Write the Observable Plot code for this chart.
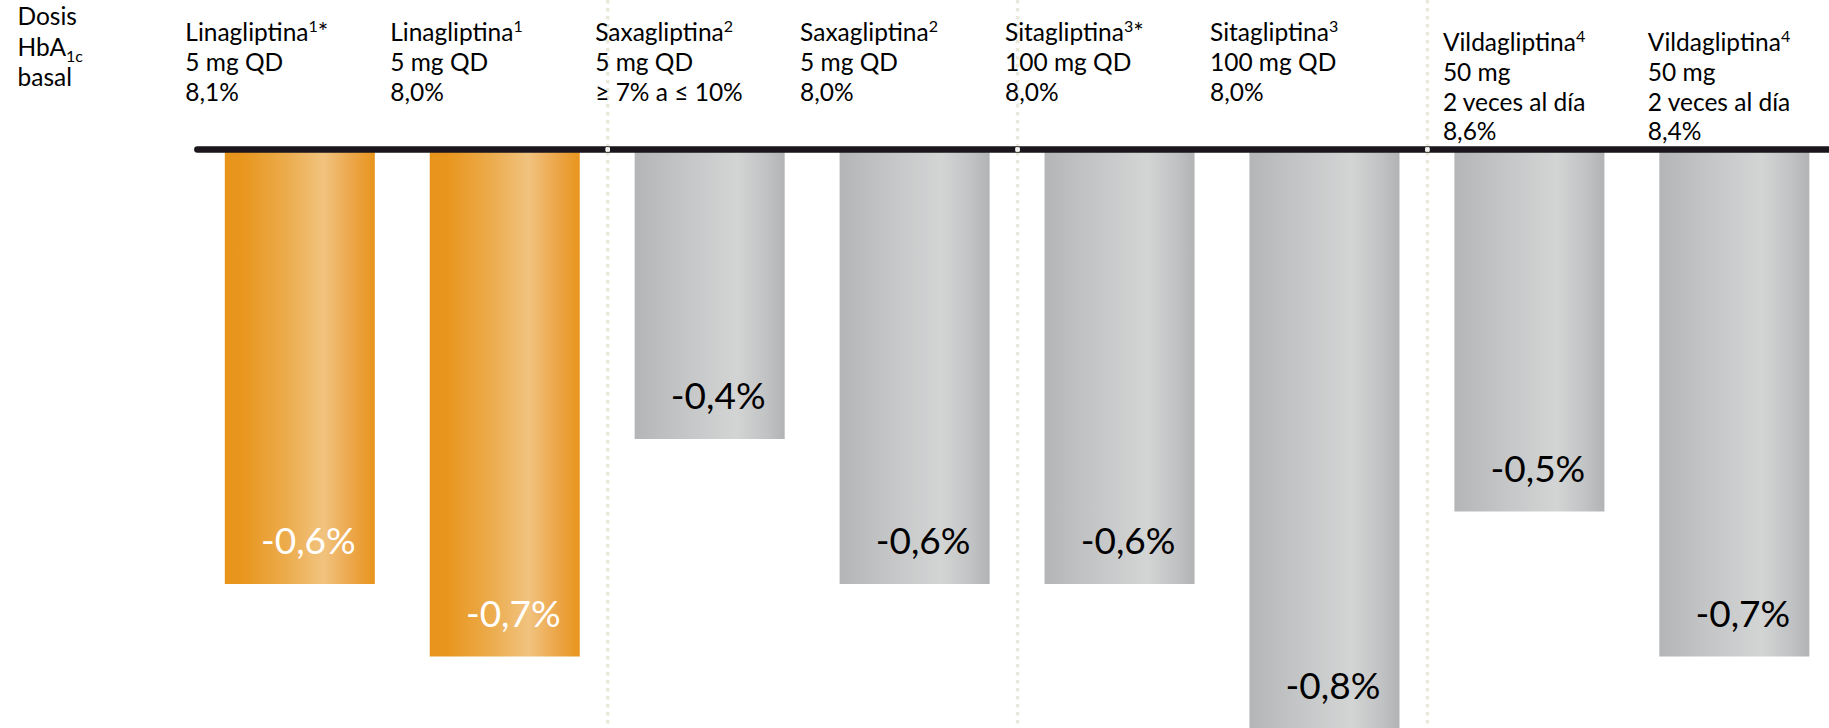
<!DOCTYPE html>
<html><head><meta charset="utf-8">
<script src="https://cdn.jsdelivr.net/npm/d3@7"></script>
<script src="https://cdn.jsdelivr.net/npm/@observablehq/plot@0.6"></script>
<style>
html,body{margin:0;padding:0;background:#fff;overflow:hidden;}
#chart svg{display:block;}
</style></head><body><div id="chart"></div>
<script>
// ---- data ----
const drugs = ["Linagliptina","Linagliptina","Saxagliptina","Saxagliptina","Sitagliptina","Sitagliptina","Vildagliptina","Vildagliptina"];
const headers = [
  "Linagliptina¹*\n5 mg QD\n8,1%",
  "Linagliptina¹\n5 mg QD\n8,0%",
  "Saxagliptina²\n5 mg QD\n≥ 7% a ≤ 10%",
  "Saxagliptina²\n5 mg QD\n8,0%",
  "Sitagliptina³*\n100 mg QD\n8,0%",
  "Sitagliptina³\n100 mg QD\n8,0%",
  "Vildagliptina⁴\n50 mg\n2 veces al día\n8,6%",
  "Vildagliptina⁴\n50 mg\n2 veces al día\n8,4%"
];
const changes = [-0.6, -0.7, -0.4, -0.6, -0.6, -0.8, -0.5, -0.7];
const rowLabel = "Dosis\nHbA1c\nbasal";
const highlightDrug = "Linagliptina";

// ---- derived table ----
const rows = drugs.map((d, i) => ({i, drug: d, header: headers[i], change: changes[i], lines: headers[i].split("\n").length}));
const seps = rows.filter((r, i) => i > 0 && r.drug !== drugs[i - 1]).map(r => r.i - 0.5);
const hw = 0.366;
const fmt = v => v.toFixed(1).replace(".", ",") + "%";
const xDomain = [-1.463, 7.462];
const hi = rows.filter(r => r.drug === highlightDrug);
const lo = rows.filter(r => r.drug !== highlightDrug);
const headFont = 24.5, headLH = 1.22;

const svg = Plot.plot({
  width: 1829, height: 728, margin: 0,
  x: {domain: xDomain, axis: null},
  y: {domain: [-0.79862, 0.20552], axis: null},
  style: {fontFamily: "Lato, sans-serif", background: "white", overflow: "hidden"},
  marks: [
    Plot.ruleX(seps, {x: d => d, stroke: "#ebe9dc", strokeWidth: 3.5, strokeDasharray: "3.5,4.5"}),
    Plot.rectY(hi, {x1: d => d.i - hw, x2: d => d.i + hw, y1: () => 0, y2: "change", fill: "url(#gradOrange)"}),
    Plot.rectY(lo, {x1: d => d.i - hw, x2: d => d.i + hw, y1: () => 0, y2: "change", fill: "url(#gradGray)"}),
    Plot.ruleY([0], {x1: () => -0.5, x2: () => xDomain[1], stroke: "#1a161c", strokeWidth: 6.5, strokeLinecap: "round"}),
    Plot.dot(seps, {x: d => d, y: () => 0, symbol: "square", r: 2, fill: "#efeee6", stroke: "#fff", strokeWidth: 1}),
    Plot.text(hi, {x: "i", y: "change", text: d => fmt(d.change), dy: -42, dx: 8, fill: "white", fontSize: 37, textAnchor: "middle"}),
    Plot.text(lo, {x: "i", y: "change", text: d => fmt(d.change), dy: -42, dx: 8, fill: "black", fontSize: 37, textAnchor: "middle"}),
    Plot.text(rows.filter(r => r.lines === 3), {x: d => d.i - hw, text: "header", frameAnchor: "top", textAnchor: "start", lineAnchor: "top", dx: -40, dy: 19.5, fontSize: headFont, lineHeight: headLH, fill: "black"}),
    Plot.text(rows.filter(r => r.lines === 4), {x: d => d.i - hw, text: "header", frameAnchor: "top", textAnchor: "start", lineAnchor: "top", dx: -12, dy: 29, fontSize: headFont, lineHeight: headLH, fill: "black"}),
    Plot.text([rowLabel], {text: d => d, frameAnchor: "top-left", textAnchor: "start", lineAnchor: "top", dx: 17, dy: 3, fontSize: headFont, lineHeight: 1.245, fill: "black"})
  ]
});

// gradients
const defs = d3.select(svg).insert("defs", ":first-child");
function grad(id, stops) {
  const g = defs.append("linearGradient").attr("id", id).attr("x1", 0).attr("x2", 1).attr("y1", 0).attr("y2", 0);
  stops.forEach(([o, c]) => g.append("stop").attr("offset", o).attr("stop-color", c));
}
grad("gradOrange", [[0, "#e8941b"], [0.12, "#e8961e"], [0.4, "#ecab4b"], [0.66, "#f1c37f"], [0.86, "#eca445"], [1, "#e8951c"]]);
grad("gradGray", [[0, "#b4b5b7"], [0.3, "#c3c4c5"], [0.68, "#d3d4d4"], [0.88, "#c1c2c3"], [1, "#b2b3b5"]]);

// subscript for HbA1c
d3.select(svg).selectAll("tspan").filter(function() { return this.textContent === "HbA1c"; }).each(function() {
  const t = d3.select(this);
  t.text("HbA");
  t.append("tspan").attr("font-size", 16).attr("baseline-shift", -6).text("1c");
});

// superscript reference marks
const supMap = {"¹": "1", "²": "2", "³": "3", "⁴": "4"};
d3.select(svg).selectAll("tspan").filter(function() { return /[¹²³⁴]/.test(this.textContent) && this.children.length === 0; }).each(function() {
  const m = this.textContent.match(/^(.*?)([¹²³⁴])(.*)$/);
  const t = d3.select(this);
  t.text(m[1]);
  t.append("tspan").attr("font-size", 16).attr("baseline-shift", 9).text(supMap[m[2]]);
  if (m[3]) this.appendChild(document.createTextNode(m[3]));
});

document.getElementById("chart").appendChild(svg);
</script>
</body></html>
